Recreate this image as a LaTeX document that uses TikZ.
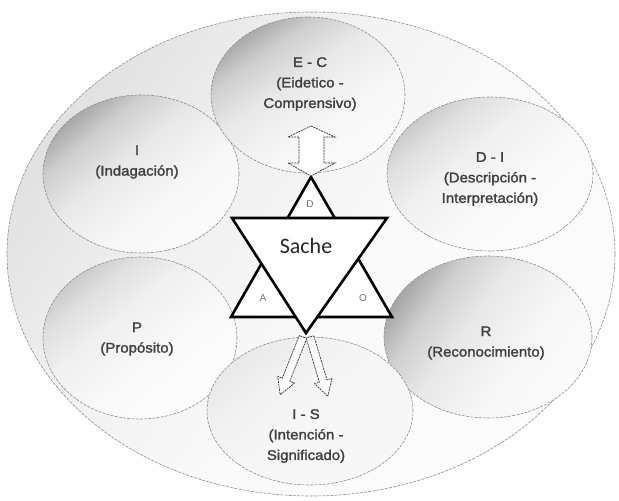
\documentclass[tikz,border=0pt]{standalone}
\usepackage{fontspec}
\setmainfont{Liberation Sans}
\newfontfamily\labfont[FakeStretch=1.07,FakeBold=1.8]{Liberation Sans}
\newfontfamily\sachefont{Carlito}
\usetikzlibrary{shapes.geometric}
\pgfdeclareverticalshading{bubdark}{100bp}{color(0bp)=(white); color(40bp)=(white!97!black); color(56bp)=(black!9); color(67bp)=(black!19); color(76bp)=(black!36); color(100bp)=(black!36)}
\pgfdeclareverticalshading{bubmid}{100bp}{color(0bp)=(white); color(42bp)=(white!98!black); color(58bp)=(black!6); color(68bp)=(black!12); color(76bp)=(black!22); color(100bp)=(black!22)}
\pgfdeclareverticalshading{bublight}{100bp}{color(0bp)=(white!97!black); color(45bp)=(white!97!black); color(62bp)=(black!5); color(76bp)=(black!9); color(100bp)=(black!9)}
\pgfdeclareverticalshading{outershade}{100bp}{color(0bp)=(white); color(45bp)=(white!98!black); color(62bp)=(black!6); color(76bp)=(black!12); color(100bp)=(black!12)}
\begin{document}
\begin{tikzpicture}[x=1pt,y=-1pt,
  bub/.style={ellipse, inner sep=0pt, draw=black!45, line width=0.6pt, dash pattern=on 3pt off 1.2pt},
  lab/.style={font=\labfont\fontsize{14}{20.5}\selectfont, text=black!75, align=center},
  tri/.style={draw=black, line width=2.6pt, line join=miter, fill=white},
  small/.style={font=\fontsize{10}{12}\selectfont, text=black!55},
  barrow/.style={draw=black!80, line width=0.7pt, fill=white, dash pattern=on 2pt off 0.8pt, line join=miter},
  blockarrow/.pic={\path[barrow] (0,-4) -- (46,-4) -- (46,-9) -- (62,0) -- (46,9) -- (46,4) -- (0,4) -- cycle;}
]
\useasboundingbox (0,0) rectangle (619,501);
% outer ellipse
\node[bub, minimum width=608pt, minimum height=484pt, shading=outershade, shading angle=55] (outer) at (311,254) {};
% inner ellipses
\node[bub, minimum width=196pt, minimum height=158pt, shading=bubdark, shading angle=40] (I) at (141,174) {};
\node[bub, minimum width=194pt, minimum height=162pt, shading=bubmid, shading angle=40] (P) at (140,338) {};
\node[bub, minimum width=206pt, minimum height=154pt, shading=bubmid, shading angle=40] (DI) at (490,174) {};
\node[bub, minimum width=208pt, minimum height=162pt, shading=bubdark, shading angle=55] (R) at (488,337) {};
\node[bub, minimum width=206pt, minimum height=148pt, shading=bublight, shading angle=40] (IS) at (310,411) {};
\node[bub, minimum width=194pt, minimum height=156pt, shading=bubdark, shading angle=35] (EC) at (308,95) {};
% texts
\node[lab] (tEC) at (310,84) {E - C\\(Eidetico -\\Comprensivo)};
\node[lab] (tI) at (137,162) {I\\(Indagación)};
\node[lab] (tP) at (137,339) {P\\(Propósito)};
\node[lab] (tDI) at (490,179) {D - I\\(Descripción -\\Interpretación)};
\node[lab] (tR) at (486,343) {R\\(Reconocimiento)};
\node[lab] (tIS) at (306,436) {I - S\\(Intención -\\Significado)};
% star
\coordinate (ua) at (311,177);
\coordinate (ul) at (231,317);
\coordinate (ur) at (392,317);
\coordinate (dl) at (232,218);
\coordinate (dr) at (387,218);
\coordinate (db) at (306,333);
\draw[tri] (ua) -- (ul) -- (ur) -- cycle;
\draw[tri] (dl) -- (dr) -- (db) -- cycle;
\node[font=\sachefont\fontsize{22}{24}\selectfont, text=black!85] (sache) at (306,246) {Sache};
\node[small] (lD) at (310,204) {D};
\node[small] (lA) at (263,298) {A};
\node[small] (lO) at (363,298) {O};
% top double arrow
\path[barrow] (311,126) -- (335,137) -- (324,137) -- (324,163) -- (335,163) -- (311,176)
  -- (288,163) -- (299,163) -- (299,137) -- (288,137) -- cycle;
% bottom arrows
\pic[rotate=248.4] at (303,337) {blockarrow};
\pic[rotate=286.7] at (310,337) {blockarrow};
\end{tikzpicture}
\end{document}
